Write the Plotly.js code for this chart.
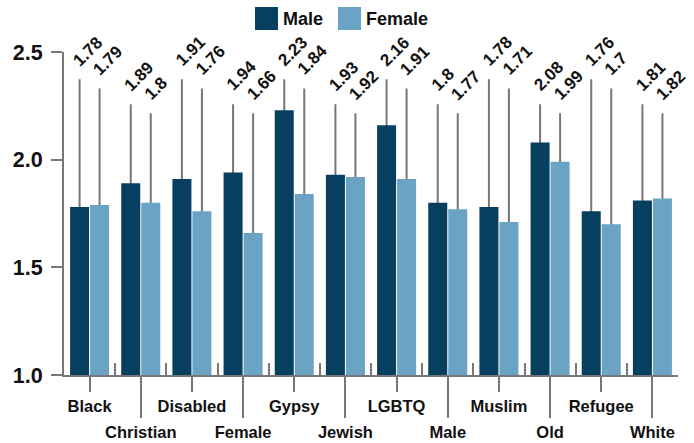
<!DOCTYPE html>
<html>
<head>
<meta charset="utf-8">
<script src="https://cdn.plot.ly/plotly-3.0.1.min.js"></script>
<style>html,body{margin:0;padding:0;background:#fff;}#chart{width:694px;height:443px;}</style>
</head>
<body>
<div id="chart"></div>
<script>
const categories = ["Black","Christian","Disabled","Female","Gypsy","Jewish","LGBTQ","Male","Muslim","Old","Refugee","White"];
const maleValues = [1.78,1.89,1.91,1.94,2.23,1.93,2.16,1.8,1.78,2.08,1.76,1.81];
const femaleValues = [1.79,1.8,1.76,1.66,1.84,1.92,1.91,1.77,1.71,1.99,1.7,1.82];
const seriesNames = ["Male","Female"];
const seriesColors = ["#073f60","#6aa3c4"];
const yTicks = [1.0,1.5,2.0,2.5];

// style constants
const FONT = '"Liberation Sans", Arial, sans-serif';
const GRAY = '#777777';
const BARGAP = 0.218, BARGROUPGAP = 0.05;
const labelHeightsEven = [2.373, 2.331];
const labelHeightsOdd = [2.257, 2.215];
const W = 694, H = 443, ML = 64, MR = 16, MT = 52, MB = 68;
const PW = W - ML - MR, PH = H - MT - MB;
const px2x = p => (p - ML) / PW;
const py2y = p => (H - MB - p) / PH;

const idx = categories.map((c, i) => i);
const slot = (1 - BARGAP) / 2;

const traces = [
  {type:'bar', x: idx, y: maleValues, name: seriesNames[0], marker:{color: seriesColors[0]}, showlegend:false, hoverinfo:'skip'},
  {type:'bar', x: idx, y: femaleValues, name: seriesNames[1], marker:{color: seriesColors[1]}, showlegend:false, hoverinfo:'skip'},
  {type:'scatter', mode:'markers', x: idx.filter(i => i % 2 === 0), y: idx.filter(i => i % 2 === 0).map(i => maleValues[i]), xaxis:'x2', marker:{opacity:0}, showlegend:false, hoverinfo:'skip'},
  {type:'scatter', mode:'markers', x: idx.filter(i => i % 2 === 1), y: idx.filter(i => i % 2 === 1).map(i => maleValues[i]), xaxis:'x3', marker:{opacity:0}, showlegend:false, hoverinfo:'skip'}
];

const shapes = [];
const annotations = [];
[maleValues, femaleValues].forEach((vals, s) => {
  vals.forEach((v, i) => {
    const x = i + (s === 0 ? -slot / 2 : slot / 2);
    const h = (i % 2 === 0 ? labelHeightsEven : labelHeightsOdd)[s];
    shapes.push({type:'line', layer:'below', xref:'x', yref:'y', x0:x, x1:x, y0:1.0, y1:h, line:{color:GRAY, width:2}});
    annotations.push({xref:'x', yref:'y', x:x, y:h, text:String(v), showarrow:false, textangle:-45,
      xanchor:'left', yanchor:'bottom', xshift:-13, yshift:7, font:{family:FONT, size:17, color:'#111', weight:'bold'}});
  });
});

// legend (manual)
const legendItems = [{sx:255, tx:281}, {sx:338, tx:364}];
seriesNames.forEach((n, s) => {
  const it = legendItems[s];
  shapes.push({type:'rect', xref:'paper', yref:'paper', x0:px2x(it.sx), x1:px2x(it.sx + 23), y0:py2y(30), y1:py2y(7), fillcolor:seriesColors[s], line:{width:0}});
  annotations.push({xref:'paper', yref:'paper', x:px2x(it.tx), y:py2y(19), text:n, showarrow:false, xanchor:'left', yanchor:'middle',
    font:{family:FONT, size:18, color:'#111', weight:'bold'}});
});

const boundaries = [];
for (let b = -0.5; b <= categories.length - 0.5; b += 1) boundaries.push(b);
const even = idx.filter(i => i % 2 === 0), odd = idx.filter(i => i % 2 === 1);
const catFont = {family:FONT, size:16.5, color:'#111', weight:'bold'};

const layout = {
  width: W, height: H,
  margin: {l: ML, r: MR, t: MT, b: MB, pad: 0},
  paper_bgcolor: '#fff', plot_bgcolor: '#fff',
  barmode: 'group', bargap: BARGAP, bargroupgap: BARGROUPGAP,
  showlegend: false,
  xaxis: {range:[-0.5, categories.length - 0.5], tickvals: boundaries, showticklabels:false, ticks:'inside', ticklen:12, tickwidth:2, tickcolor:GRAY,
    showline:true, linecolor:GRAY, linewidth:2, showgrid:false, zeroline:false, fixedrange:true},
  xaxis2: {overlaying:'x', anchor:'y', side:'bottom', range:[-0.5, categories.length - 0.5], tickvals: even, ticktext: even.map(i => categories[i]),
    ticks:'outside', ticklen:16, tickwidth:2, tickcolor:GRAY, showline:false, showgrid:false, zeroline:false, tickfont:catFont},
  xaxis3: {overlaying:'x', anchor:'y', side:'bottom', range:[-0.5, categories.length - 0.5], tickvals: odd, ticktext: odd.map(i => categories[i]),
    ticks:'outside', ticklen:42, tickwidth:2, tickcolor:GRAY, showline:false, showgrid:false, zeroline:false, tickfont:catFont},
  yaxis: {range:[1.0, 2.5], tickvals: yTicks, ticktext: yTicks.map(t => t.toFixed(1)), ticks:'outside', ticklen:11, tickwidth:2, tickcolor:GRAY,
    showline:true, linecolor:GRAY, linewidth:2, showgrid:false, zeroline:false, tickfont:{family:FONT, size:21.5, color:'#111', weight:'bold'}, ticklabelstandoff:4},
  shapes: shapes,
  annotations: annotations
};

Plotly.newPlot('chart', traces, layout, {displayModeBar:false, staticPlot:true});
</script>
</body>
</html>
